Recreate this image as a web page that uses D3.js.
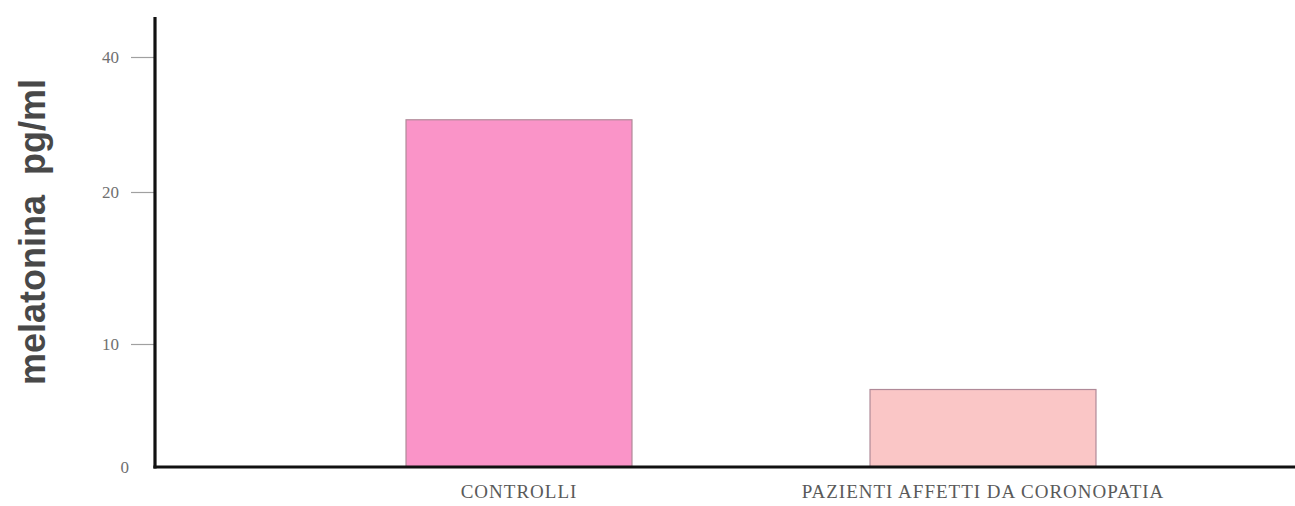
<!DOCTYPE html>
<html>
<head>
<meta charset="utf-8">
<script src="https://cdn.jsdelivr.net/npm/d3@7"></script>
<style>
  html, body { margin: 0; padding: 0; background: #ffffff; }
  svg { display: block; }
</style>
</head>
<body>
<svg id="chart" width="1295" height="506"></svg>
<script>
// Mean melatonin levels per group
const categories = ["CONTROLLI", "PAZIENTI AFFETTI DA CORONOPATIA"];
const values = [30.7, 6.3];
const barColors = ["#fa94c8", "#fac6c6"];
const tickValues = [0, 10, 20, 40];
const yTitle = "melatonina  pg/ml";

const svg = d3.select("#chart");

// Axis breakpoints for the (unevenly spaced) value scale
const y = d3.scaleLinear()
  .domain([0, 10, 20, 40])
  .range([467, 344, 192, 57]);

const x = d3.scaleBand()
  .domain(categories)
  .range([287, 1215])
  .paddingInner(0.513)
  .paddingOuter(0.2565);

// Bars
svg.append("g")
  .selectAll("rect")
  .data(categories)
  .join("rect")
  .attr("x", d => x(d))
  .attr("width", x.bandwidth())
  .attr("y", (d, i) => y(values[i]))
  .attr("height", (d, i) => y(0) - y(values[i]))
  .attr("fill", (d, i) => barColors[i])
  .attr("stroke", "#b08a98")
  .attr("stroke-width", 1.2);

// Y axis: ticks and labels
const yAxis = d3.axisLeft(y)
  .tickValues(tickValues)
  .tickSize(24)
  .tickPadding(12)
  .tickFormat(d3.format("d"));

const gy = svg.append("g")
  .attr("transform", "translate(155,0)")
  .call(yAxis);
gy.select(".domain").remove();
gy.selectAll(".tick line")
  .attr("stroke", "#a0a0a0")
  .attr("stroke-width", 1.2)
  .attr("opacity", d => d === 0 ? 0 : 1);
gy.selectAll(".tick text")
  .attr("font-family", "'Liberation Serif', 'DejaVu Serif', serif")
  .attr("font-size", 17)
  .attr("fill", "#707070")
  .attr("dx", d => d === 0 ? 10 : 0);

// Heavy axis lines
svg.append("line")
  .attr("x1", 155).attr("x2", 155)
  .attr("y1", 17).attr("y2", y(0) + 1.5)
  .attr("stroke", "#111").attr("stroke-width", 3.2);
svg.append("line")
  .attr("x1", 153.4).attr("x2", 1295)
  .attr("y1", y(0)).attr("y2", y(0))
  .attr("stroke", "#111").attr("stroke-width", 3.2);

// Category labels
svg.append("g")
  .selectAll("text")
  .data(categories)
  .join("text")
  .attr("x", d => x(d) + x.bandwidth() / 2)
  .attr("y", 498)
  .attr("text-anchor", "middle")
  .attr("font-family", "'Liberation Serif', 'DejaVu Serif', serif")
  .attr("font-size", 19)
  .attr("letter-spacing", 1)
  .attr("fill", "#5a5a5a")
  .text(d => d);

// Y title
svg.append("text")
  .attr("transform", "translate(45,232) rotate(-90)")
  .attr("text-anchor", "middle")
  .attr("font-family", "'Liberation Sans', Arial, sans-serif")
  .attr("font-weight", "bold")
  .attr("font-size", 36)
  .attr("fill", "#484848")
  .attr("xml:space", "preserve")
  .style("white-space", "pre")
  .text(yTitle);
</script>
</body>
</html>
